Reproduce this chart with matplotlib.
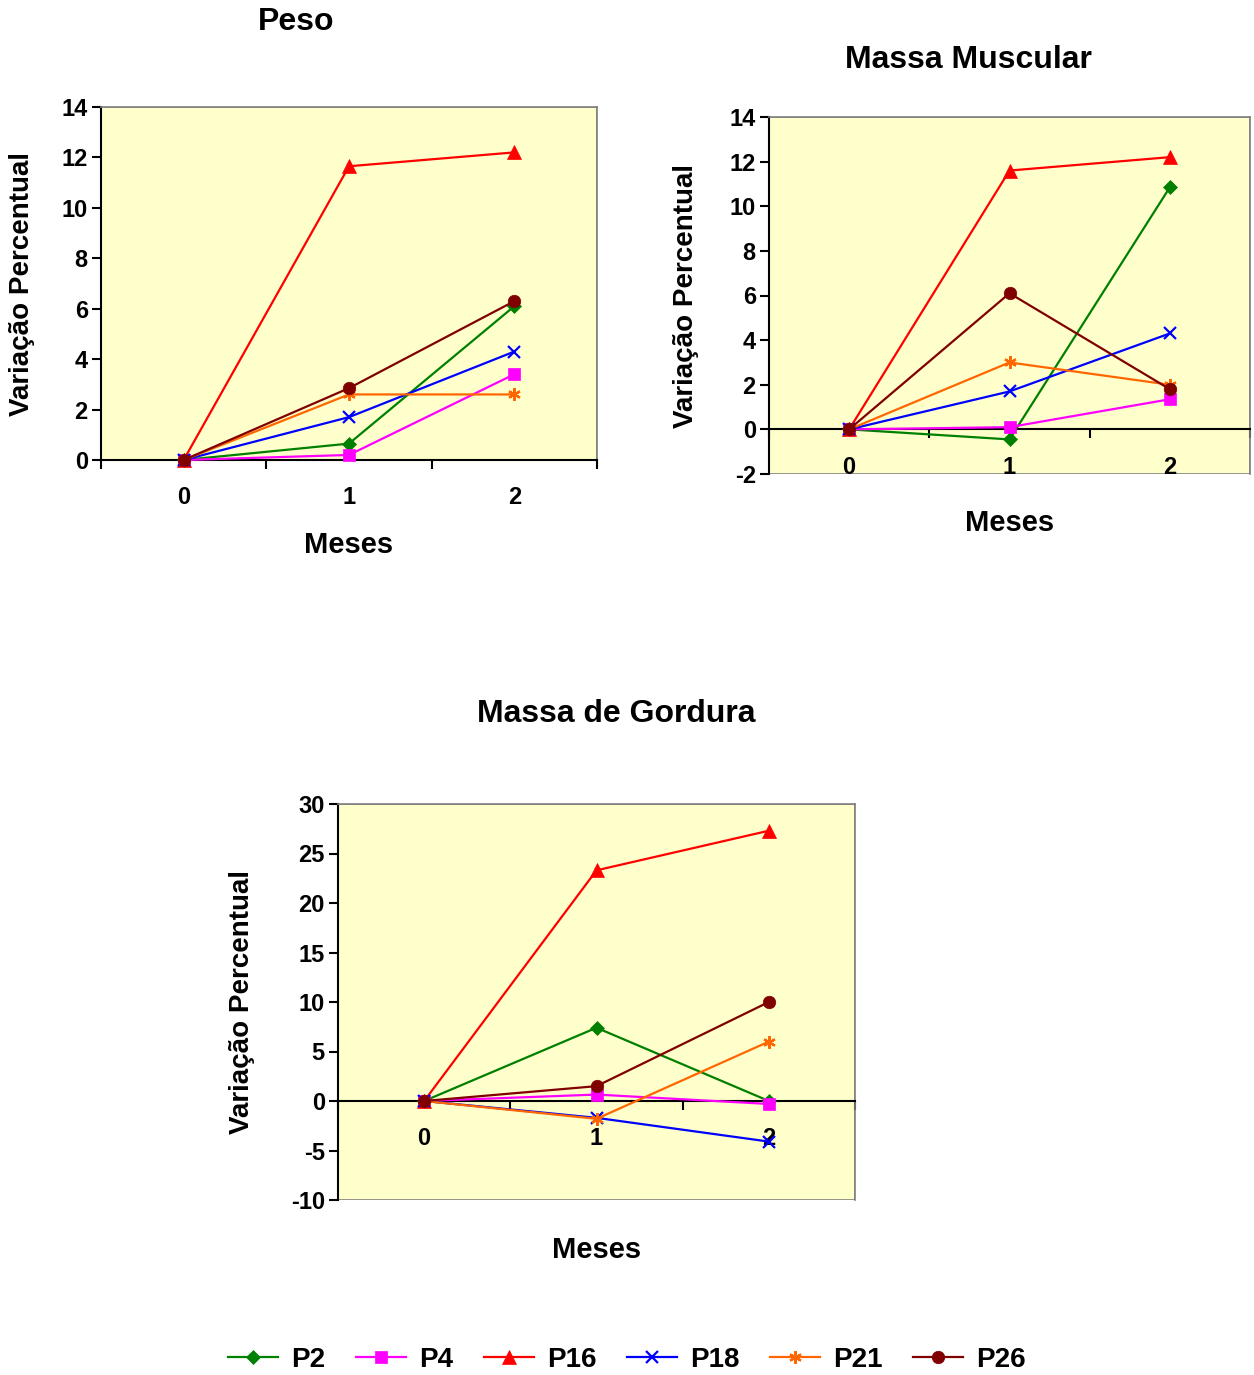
# -------------------------------------------------------------------------- #
# ---------------------------- Imported Modules ---------------------------- #

import matplotlib
matplotlib.use("Agg")
import matplotlib.pyplot as plt
from matplotlib.patches import Rectangle

# -------------------------------------------------------------------------- #
# ---------------------------------- Data ---------------------------------- #

meses = [0, 1, 2]
participantes = ["P2", "P4", "P16", "P18", "P21", "P26"]

# Peso (variação percentual)
pesoP2 = [0, 0.65, 6.1]
pesoP4 = [0, 0.2, 3.4]
pesoP16 = [0, 11.65, 12.2]
pesoP18 = [0, 1.7, 4.3]
pesoP21 = [0, 2.6, 2.6]
pesoP26 = [0, 2.85, 6.3]

# Massa Muscular
muscP2 = [0, -0.45, 10.85]
muscP4 = [0, 0.1, 1.35]
muscP16 = [0, 11.6, 12.2]
muscP18 = [0, 1.7, 4.3]
muscP21 = [0, 3.0, 2.0]
muscP26 = [0, 6.1, 1.8]

# Massa de Gordura
gordP2 = [0, 7.4, 0.0]
gordP4 = [0, 0.65, -0.3]
gordP16 = [0, 23.3, 27.3]
gordP18 = [0, -1.7, -4.1]
gordP21 = [0, -1.8, 6.0]
gordP26 = [0, 1.5, 10.0]

# -------------------------------------------------------------------------- #
# --------------------------------- Styles --------------------------------- #

plt.rcParams['font.family'] = ['Liberation Sans', 'DejaVu Sans']
plt.rcParams['font.weight'] = 'bold'

W, H = 1254, 1375
colors = ['#008000', '#FF00FF', '#FF0000', '#0000FF', '#FF6600', '#800000']
markers = ['D', 's', '^', 'x', (6, 2, 0), 'o']
markerSizes = [7, 8, 10, 8, 9, 9]
bgColor = '#FFFFCC'
frameGray = '#808080'

fig = plt.figure(figsize=(W / 100, H / 100), dpi=100)


def pxAxes(left, top, right, bottom):
    # Convert pixel box to figure fraction
    return [left / W, 1 - bottom / H, (right - left) / W, (bottom - top) / H]


def drawPanel(box, series, yTicks, title, titlePos, yLabelX, xLabelY, yTickSize):
    ax = fig.add_axes(pxAxes(*box))
    ax.set_facecolor(bgColor)
    for k, values in enumerate(series):
        ax.plot(meses, values, color=colors[k], marker=markers[k], markersize=markerSizes[k],
                linewidth=1.6, markeredgewidth=1.6 if markers[k] in ('x', (6, 2, 0)) else 0.5,
                label=participantes[k], clip_on=False, zorder=3 + k)
    ax.set_xlim(-0.5, 2.5)
    ax.set_ylim(yTicks[0], yTicks[-1])
    ax.set_yticks(yTicks)
    ax.set_yticklabels([str(t) for t in yTicks], fontsize=yTickSize, fontweight='bold')

    # Category axis crosses at zero
    ax.spines['bottom'].set_position(('data', 0))
    ax.spines['bottom'].set_color('black')
    ax.spines['bottom'].set_linewidth(1.5)
    ax.spines['left'].set_linewidth(1.5)
    ax.spines['top'].set_color(frameGray)
    ax.spines['right'].set_color(frameGray)
    ax.spines['top'].set_linewidth(1.2)
    ax.spines['right'].set_linewidth(1.2)
    ax.add_patch(Rectangle((0, 0), 1, 1, transform=ax.transAxes, fill=False,
                           edgecolor=frameGray, linewidth=1.2, zorder=0.5))

    ax.set_xticks(meses)
    ax.set_xticklabels([str(m) for m in meses], fontsize=17, fontweight='bold')
    ax.set_xticks([-0.5, 0.5, 1.5, 2.5], minor=True)
    ax.tick_params(axis='x', which='major', length=0, pad=19)
    ax.tick_params(axis='x', which='minor', length=6.5, width=1.5, direction='out')
    ax.tick_params(axis='y', length=6.5, width=1.5, direction='out', pad=3)

    ax.text(yLabelX, 0.5, 'Variação Percentual', transform=ax.transAxes, rotation=90,
            ha='center', va='center', fontsize=20, fontweight='bold')
    ax.text(0.5, xLabelY, 'Meses', transform=ax.transAxes, ha='center', va='center',
            fontsize=21, fontweight='bold')
    fig.text(titlePos[0] / W, 1 - titlePos[1] / H, title, ha='center', va='center',
             fontsize=23, fontweight='bold')
    return ax


# -------------------------------------------------------------------------- #
# --------------------------------- Panels --------------------------------- #

axPeso = drawPanel((101, 107, 597, 460),
                   [pesoP2, pesoP4, pesoP16, pesoP18, pesoP21, pesoP26],
                   list(range(0, 15, 2)), 'Peso', (296, 22), -0.159, -0.241, 17)

axMusc = drawPanel((769, 117, 1250, 474),
                   [muscP2, muscP4, muscP16, muscP18, muscP21, muscP26],
                   list(range(-2, 15, 2)), 'Massa Muscular', (968, 60), -0.1726, -0.137, 17)

axGord = drawPanel((338, 804, 855, 1200),
                   [gordP2, gordP4, gordP16, gordP18, gordP21, gordP26],
                   list(range(-10, 31, 5)), 'Massa de Gordura', (616, 714), -0.186, -0.126, 17)

# Shared legend at the bottom
handles, labels = axPeso.get_legend_handles_labels()
fig.legend(handles, labels, loc='center', bbox_to_anchor=(0.5, 1 - 1360 / H), ncol=6,
           frameon=False, prop={'size': 20, 'weight': 'bold'}, handlelength=1.8,
           handletextpad=0.47, columnspacing=1.1)

fig.savefig('out.png', dpi=100, facecolor='white')
